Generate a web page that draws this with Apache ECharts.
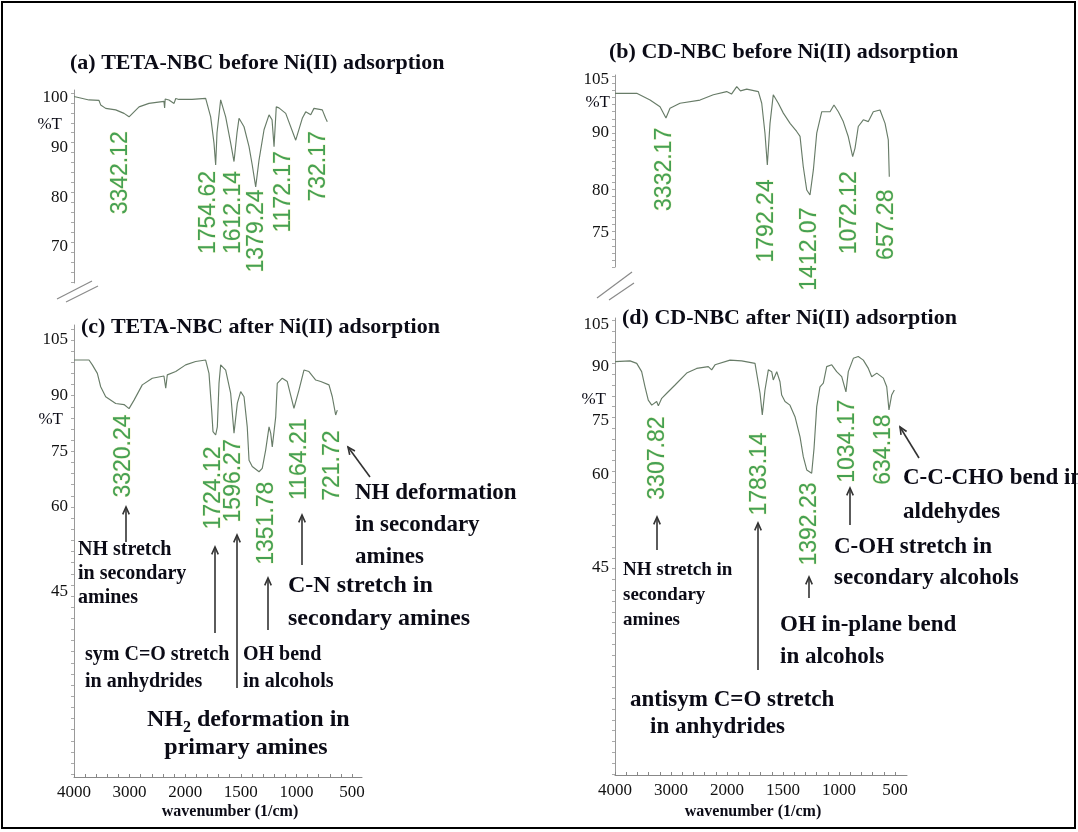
<!DOCTYPE html>
<html>
<head>
<meta charset="utf-8">
<script src="https://cdn.jsdelivr.net/npm/echarts@6.0.0/dist/echarts.min.js"></script>
<style>
html,body{margin:0;padding:0;background:#fff;}
#chart{width:1078px;height:832px;}
</style>
</head>
<body>
<div id="chart"></div>
<script>
// ---------- DATA (wavenumber in 1/cm, transmittance in %T) ----------
const waveA = [4000,3730,3550,3520,3430,3250,3100,3010,2920,2830,2652,2382,2370,2360,2292,2200,2170,2112,1939,1816,1771,1741,1726,1714,1681,1636,1591,1561,1534,1516,1471,1426,1397,1366,1336,1291,1246,1219,1201,1181,1157,1096,1006,947,916,871,842,767,737,722];
const transA = [100.3,99.6,99.5,98.6,97.9,97.6,96.9,96.2,97.2,98.2,98.9,99.3,98.0,99.8,99.6,98.9,99.9,99.7,99.7,99.9,96.2,90.9,86.5,93.0,99.6,96.2,90.9,87.2,93.0,95.9,94.2,90.2,86.5,82.1,87.5,93.6,96.6,95.6,90.2,98.2,98.0,96.9,91.5,95.9,97.2,96.6,97.9,97.6,95.9,95.2];

const waveB = [4000,3612,3374,3196,3090,3018,2840,2482,2244,2006,1960,1913,1880,1824,1720,1690,1661,1640,1616,1587,1542,1497,1437,1378,1348,1319,1288,1259,1229,1199,1154,1080,1045,1006,962,917,878,857,828,783,738,694,634,589,560,551];
const transB = [101.2,101.2,99.3,97.4,94.2,97.0,98.4,99.3,100.8,101.7,101.0,103.1,101.9,102.4,101.7,98.4,89.9,80.9,92.7,100.8,98.4,95.6,92.7,90.4,89.0,80.4,73.8,72.4,79.5,89.9,96.0,96.0,97.9,96.0,93.2,88.9,83.3,85.7,91.8,93.7,93.2,96.0,96.5,92.7,88.0,77.6];

const waveC = [4000,3730,3670,3580,3520,3430,3250,3100,3010,2920,2772,2592,2382,2350,2322,2170,1996,1906,1816,1786,1762,1750,1726,1711,1696,1681,1636,1591,1561,1531,1501,1471,1442,1426,1397,1336,1307,1276,1246,1231,1217,1186,1172,1127,1082,1022,977,932,887,826,781,707,677,647,632];
const transC = [99.6,99.6,98.3,96.0,92.4,89.7,87.9,87.6,86.5,88.8,92.9,94.7,95.3,92.0,95.6,96.5,98.3,99.2,99.6,96.0,86.1,80.3,79.4,81.6,93.3,98.3,96.9,90.6,79.9,88.0,91.1,89.7,81.6,72.6,70.9,69.5,70.4,75.4,81.6,79.9,76.2,84.3,93.3,94.7,93.8,86.6,91.5,96.9,96.5,94.2,93.8,92.9,89.7,84.8,86.1];

const waveD = [4000,3732,3612,3524,3464,3406,3344,3256,3226,3166,3076,2928,2720,2542,2334,2274,2214,1973,1869,1750,1705,1685,1661,1631,1601,1587,1556,1527,1512,1482,1438,1393,1348,1319,1288,1244,1223,1199,1170,1140,1110,1065,1021,976,938,917,872,828,783,738,708,663,604,574,554,530,506];
const transD = [91.5,91.7,91.0,88.7,84.5,80.8,79.4,80.4,79.2,81.3,82.7,85.0,88.3,89.6,90.1,89.2,90.6,91.9,91.7,91.0,82.7,76.7,83.6,89.2,88.7,86.4,88.7,85.9,82.2,80.4,79.4,76.2,70.6,65.1,61.4,60.5,67.4,79.0,84.5,85.5,90.1,90.6,88.7,87.3,83.1,88.7,92.4,92.9,91.9,89.6,87.3,88.3,86.9,84.5,78.1,82.2,83.6];

// peak labels: text, wavenumber where the label is drawn, %T of its upper end
const peakTextA = ['3342.12','1754.62','1612.14','1379.24','1172.17','732.17'];
const peakWaveA = [3160,1786,1561,1352,1111,797];
const peakTA    = [93.2,85.2,85.2,81.5,89.2,93.2];

const peakTextB = ['3332.17','1792.24','1412.07','1072.12','657.28'];
const peakWaveB = [3108,1646,1259,902,574];
const peakTB    = [91.3,76.7,68.7,79.0,73.8];

const peakTextC = ['3320.24','1724.12','1596.27','1351.78','1164.21','721.72'];
const peakWaveC = [3100,1741,1561,1264,968,671];
const peakTC    = [84.8,76.2,78.1,66.7,83.7,80.5];

const peakTextD = ['3307.82','1783.14','1392.23','1034.17','634.18'];
const peakWaveD = [3226,1705,1259,917,598];
const peakTD    = [76.1,71.7,57.8,80.8,76.7];

// tick labels
const xTickWaves = [4000,3000,2000,1500,1000,500];
const yTickLabelsA = ['100','90','80','70'];
const yTickAtA     = [100,90,80,70];
const yTickLabelsB = ['105','90','80','75'];
const yTickAtB     = [105,90,73.8,61.9];
const yTickLabelsC = ['105','90','75','60','45'];
const yTickAtC     = [105,90,75,60,37.1];
const yTickLabelsD = ['105','90','75','60','45'];
const yTickAtD     = [101.7,90,75,60,34.2];

// ---------- helpers ----------
// the wavenumber axis is compressed 2:1 above 2000 1/cm (as on FTIR instruments)
function tx(w){ return w > 2000 ? 2000 + (w - 2000) / 2 : w; }
function wx(t){ return t > 2000 ? 2000 + (t - 2000) * 2 : t; }

const SERIF = "'Liberation Serif','Times New Roman',serif";
const SANS = "'Liberation Sans',Arial,sans-serif";
const INK = '#0b0b16';
const CURVE = '#687c68';
const PEAK = '#168a2e';

function range(a, b, s){ const r = []; for (let v = a; v <= b + 1e-9; v += s) r.push(+v.toFixed(3)); return r; }
const xMinor = range(500, 3000, 100);

function xAxisCfg(gi, min, show){
  return {
    gridIndex: gi, type: 'value', inverse: true, min: min, max: 3000, show: show,
    axisLine: {onZero: false, lineStyle: {color: '#888', width: 1}},
    axisTick: {show: true, inside: true, length: 3, customValues: xMinor, lineStyle: {color: '#888'}},
    axisLabel: {customValues: xTickWaves.map(tx), formatter: v => String(Math.round(wx(v))),
      color: '#111', fontFamily: SERIF, fontSize: 17, margin: 7},
    splitLine: {show: false}
  };
}
function yAxisCfg(gi, min, max, at, labels, minorStep){
  return {
    gridIndex: gi, type: 'value', min: min, max: max,
    axisLine: {show: true, onZero: false, lineStyle: {color: '#999', width: 1}},
    axisTick: {show: true, length: 3, customValues: range(Math.ceil(min), Math.floor(max), minorStep), lineStyle: {color: '#aaa'}},
    axisLabel: {customValues: at, color: '#111', fontFamily: SERIF, fontSize: 17, margin: 6,
      formatter: v => { for (let i = 0; i < at.length; i++) if (Math.abs(at[i] - v) < 1e-6) return labels[i]; return ''; }},
    splitLine: {show: false}
  };
}
function lineSeries(gi, waves, trans){
  return {type: 'line', xAxisIndex: gi, yAxisIndex: gi, showSymbol: false, silent: true,
    lineStyle: {color: CURVE, width: 1.15}, data: waves.map((w, k) => [tx(w), trans[k]])};
}
function peakSeries(gi, texts, waves, ts){
  return {type: 'scatter', xAxisIndex: gi, yAxisIndex: gi, symbolSize: 1, silent: true,
    itemStyle: {color: 'rgba(0,0,0,0)'},
    label: {show: true, position: [0, 0], rotate: 90, align: 'right', verticalAlign: 'middle',
      formatter: p => p.data[2], color: PEAK, fontFamily: SANS, fontSize: 23,
      textBorderColor: 'rgba(215,215,40,0.3)', textBorderWidth: 1},
    data: waves.map((w, k) => [tx(w), ts[k], texts[k]])};
}
function txt(x, y, text, size, bold, extra){
  return Object.assign({type: 'text', x: x, y: y, silent: true,
    style: Object.assign({text: text, fontFamily: SERIF, fontSize: size, fontWeight: bold ? 'bold' : 'normal',
      fill: INK, verticalAlign: 'middle', align: 'left'}, extra || {})});
}
function block(x, y, lines, size, lh, extra){
  // y = centre of first line
  return txt(x, y - lh / 2, lines.join('\n'), size, true, Object.assign({verticalAlign: 'top', lineHeight: lh}, extra || {}));
}
function arrow(x1, y1, x2, y2){
  const a = Math.atan2(y2 - y1, x2 - x1), L = 8, s = 0.42;
  return {type: 'group', silent: true, children: [
    {type: 'line', shape: {x1: x1, y1: y1, x2: x2, y2: y2}, style: {stroke: '#333', lineWidth: 1.6}},
    {type: 'polyline', shape: {points: [[x2 - L * Math.cos(a - s), y2 - L * Math.sin(a - s)], [x2, y2],
      [x2 - L * Math.cos(a + s), y2 - L * Math.sin(a + s)]]}, style: {stroke: '#333', lineWidth: 1.6, fill: null}}
  ]};
}
function brk(x1, y1, x2, y2){
  return {type: 'line', silent: true, shape: {x1: x1, y1: y1, x2: x2, y2: y2}, style: {stroke: '#8a8a8a', lineWidth: 1.2}};
}

const chart = echarts.init(document.getElementById('chart'), null, {renderer: 'canvas'});
chart.setOption({
  backgroundColor: '#fff',
  animation: false,
  grid: [
    {left: 74, top: 90, width: 288, height: 193},
    {left: 615, top: 75, width: 292, height: 192},
    {left: 74, top: 325, width: 288, height: 452},
    {left: 615, top: 318, width: 292, height: 457}
  ],
  xAxis: [
    xAxisCfg(0, 410, false),
    xAxisCfg(1, 393, false),
    xAxisCfg(2, 410, true),
    xAxisCfg(3, 393, true)
  ],
  yAxis: [
    yAxisCfg(0, 62.75, 101.6, yTickAtA, yTickLabelsA, 2),
    yAxisCfg(1, 52.0, 106.4, yTickAtB, yTickLabelsB, 2),
    yAxisCfg(2, -12.76, 109.04, yTickAtC, yTickLabelsC, 3),
    yAxisCfg(3, -23.3, 103.6, yTickAtD, yTickLabelsD, 3)
  ],
  series: [
    lineSeries(0, waveA, transA),
    lineSeries(1, waveB, transB),
    lineSeries(2, waveC, transC),
    lineSeries(3, waveD, transD),
    peakSeries(0, peakTextA, peakWaveA, peakTA),
    peakSeries(1, peakTextB, peakWaveB, peakTB),
    peakSeries(2, peakTextC, peakWaveC, peakTC),
    peakSeries(3, peakTextD, peakWaveD, peakTD)
  ],
  graphic: [
    {type: 'rect', silent: true, shape: {x: 2, y: 2, width: 1073, height: 826}, style: {stroke: '#000', lineWidth: 2, fill: null}},
    // panel titles
    txt(70, 63, '(a) TETA-NBC before Ni(II) adsorption', 22, true),
    txt(609, 52, '(b) CD-NBC before Ni(II) adsorption', 22, true),
    txt(81, 327, '(c) TETA-NBC after Ni(II) adsorption', 22, true),
    txt(622, 318, '(d) CD-NBC after Ni(II) adsorption', 22, true),
    // %T
    txt(62, 125, '%T', 17, false, {align: 'right'}),
    txt(610, 103, '%T', 17, false, {align: 'right'}),
    txt(63, 420, '%T', 17, false, {align: 'right'}),
    txt(606, 400, '%T', 17, false, {align: 'right'}),
    // axis titles
    txt(230, 812, 'wavenumber (1/cm)', 16, true, {align: 'center'}),
    txt(753, 812, 'wavenumber (1/cm)', 16, true, {align: 'center'}),
    // axis break marks
    brk(57, 299, 92, 281), brk(66, 302, 98, 286),
    brk(597, 298, 632, 272), brk(609, 300, 634, 283),
    // (c) annotations
    block(78, 550, ['NH stretch', 'in secondary', 'amines'], 20, 24),
    arrow(126, 542, 126, 507),
    arrow(215, 633, 215, 547),
    arrow(237, 688, 237, 535),
    block(85, 655, ['sym C=O stretch', 'in anhydrides'], 20, 27),
    block(243, 655, ['OH bend', 'in alcohols'], 20, 27),
    arrow(268, 630, 268, 578),
    txt(147, 720, 'NH', 24, true),
    txt(183, 728, '2', 16, true),
    txt(191, 720, ' deformation in', 24, true),
    txt(246, 748, 'primary amines', 24, true, {align: 'center'}),
    arrow(302, 565, 302, 515),
    block(288, 586, ['C-N stretch in', 'secondary amines'], 24, 33),
    block(355, 493, ['NH deformation', 'in secondary', 'amines'], 23, 32),
    arrow(370, 477, 348, 447),
    // (d) annotations
    block(623, 570, ['NH stretch in', 'secondary', 'amines'], 19, 25),
    arrow(657, 550, 657, 517),
    arrow(758, 670, 758, 523),
    txt(630, 700, 'antisym C=O stretch', 23, true),
    txt(650, 727, 'in anhydrides', 23, true),
    block(780, 625, ['OH in-plane bend', 'in alcohols'], 23, 32),
    arrow(809, 598, 809, 577),
    block(834, 547, ['C-OH stretch in', 'secondary alcohols'], 23, 31),
    arrow(850, 525, 850, 488),
    block(903, 478, ['C-C-CHO bend in', 'aldehydes'], 23, 34),
    arrow(919, 458, 900, 427)
  ]
});
</script>
</body>
</html>
